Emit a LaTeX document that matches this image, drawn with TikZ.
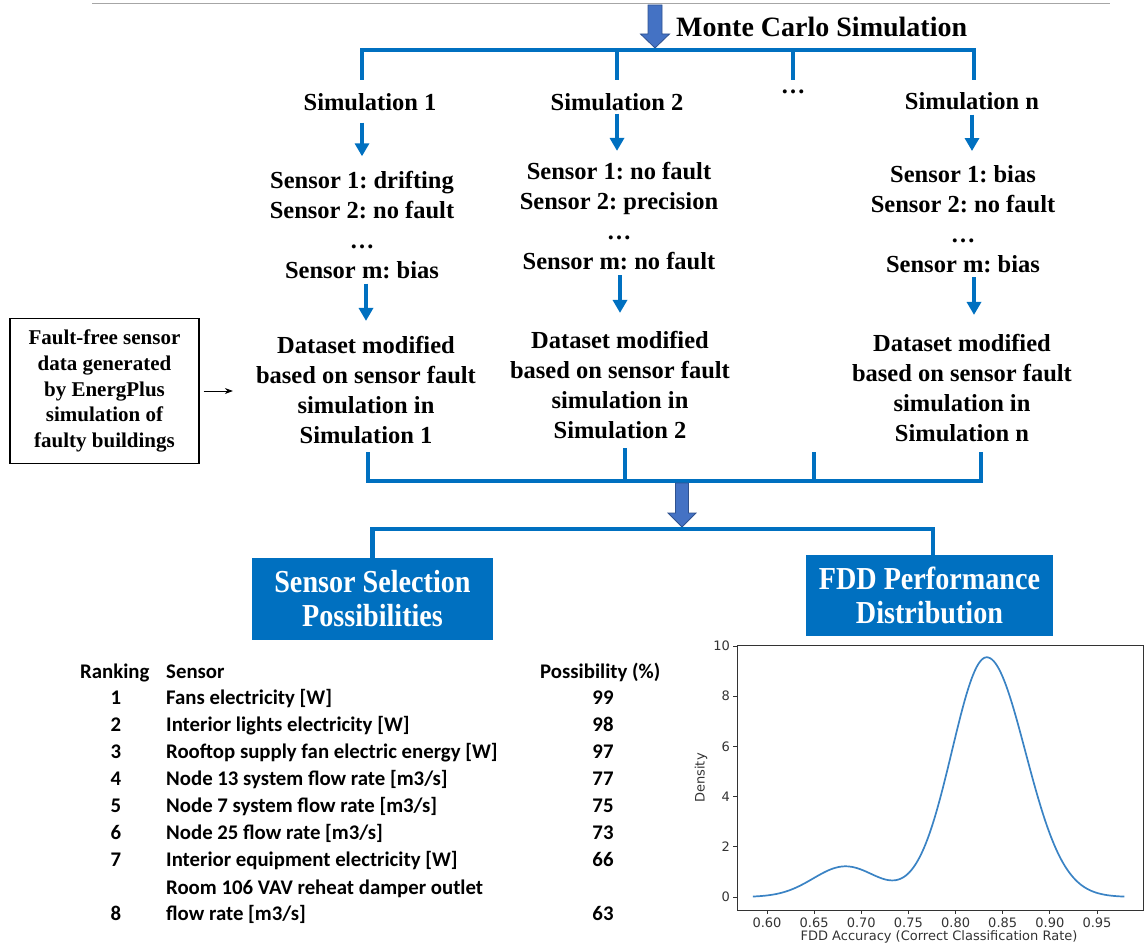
\documentclass[tikz,border=0pt]{standalone}
\usepackage{fontspec}
\setmainfont{Liberation Serif}
\newfontfamily\narrowserif[FakeStretch=0.88]{Liberation Serif}
\newfontfamily\tabfont{Carlito}
\newfontfamily\plotfont{DejaVu Sans}
\usetikzlibrary{arrows.meta,calc}
\definecolor{lineblue}{HTML}{0070C0}
\definecolor{arrowblue}{HTML}{4472C4}
\definecolor{arrowedge}{HTML}{2F528F}
\definecolor{boxblue}{HTML}{0070C0}
\definecolor{kdeblue}{HTML}{3A83C4}
\definecolor{axisgray}{HTML}{333333}
\frenchspacing

\begin{document}
\begin{tikzpicture}[x=1pt,y=-1pt,
  bus/.style={draw=lineblue, line width=4.5pt},
  flowarrow/.style={draw=lineblue, line width=3.6pt, -{Triangle[length=13pt,width=14pt]}},
  bigarrow/.style={fill=arrowblue, draw=arrowedge, line width=0.8pt},
  flowtext/.style={font=\bfseries\fontsize{24.5}{30}\selectfont, align=center, inner sep=0pt},
  titletext/.style={font=\bfseries\fontsize{28}{32}\selectfont, inner sep=0pt},
  sourcebox/.style={draw=black, line width=1.3pt, minimum width=189pt, minimum height=145pt,
    align=center, inner sep=0pt, font=\bfseries\fontsize{21}{25.7}\selectfont},
  resultbox/.style={fill=boxblue, text=white, align=center, inner sep=0pt,
    font=\narrowserif\bfseries\fontsize{32}{34}\selectfont},
  tabtext/.style={font=\tabfont\bfseries\fontsize{20.8}{25}\selectfont, inner sep=0pt},
  ticktext/.style={font=\plotfont\fontsize{13}{15}\selectfont, text=axisgray, inner sep=0pt},
]
\useasboundingbox (0,0) rectangle (1145,944);

% rule along the top
\draw[gray!70, line width=1.2pt] (92,3.5) -- (1110,3.5);

% ---------- Monte Carlo stage ----------
\node[titletext, anchor=west] (mc) at (676,27) {Monte Carlo Simulation};
\coordinate (mcTop) at (655,5);
\coordinate (mcTip) at (655,48);
\filldraw[bigarrow] ($(mcTop)+(-7,0)$) -- ($(mcTip)+(-7,-14)$) -- ($(mcTip)+(-14.5,-14)$)
  -- (mcTip) -- ($(mcTip)+(14.5,-14)$) -- ($(mcTip)+(7,-14)$) -- ($(mcTop)+(7,0)$) -- cycle;

\coordinate (busR) at (974,50);
\coordinate (drop1) at (362,80);
\coordinate (drop2) at (617,80);
\coordinate (drop3) at (793,80);
\coordinate (dropn) at (974,80);
\draw[bus] (drop1) |- (busR) -- (dropn);
\draw[bus] (drop2) -- (drop2 |- busR);
\draw[bus] (drop3) -- (drop3 |- busR);

\node[flowtext] (sim1) at (370,102) {Simulation 1};
\node[flowtext] (sim2) at (617,102) {Simulation 2};
\node[flowtext] (simdots) at (793,92) {…};
\node[flowtext] (simn) at (972,101) {Simulation n};

\node[flowtext] (sens1) at (362,224.6) {Sensor 1: drifting\\Sensor 2: no fault\\…\\Sensor m: bias};
\node[flowtext] (sens2) at (619,216.2) {Sensor 1: no fault\\Sensor 2: precision\\…\\Sensor m: no fault};
\node[flowtext] (sensn) at (963,219.2) {Sensor 1: bias\\Sensor 2: no fault\\…\\Sensor m: bias};

\node[flowtext] (data1) at (366,390.2) {Dataset modified\\based on sensor fault\\simulation in\\Simulation 1};
\node[flowtext] (data2) at (620,385.2) {Dataset modified\\based on sensor fault\\simulation in\\Simulation 2};
\node[flowtext] (datan) at (962,388.2) {Dataset modified\\based on sensor fault\\simulation in\\Simulation n};

\draw[flowarrow, shorten <=11.7pt, shorten >=14.3pt] (sens1.north |- sim1.south) -- (sens1.north);
\draw[flowarrow, shorten <=2.7pt, shorten >=11.3pt] (sim2.south) -- (sim2.south |- sens2.north);
\draw[flowarrow, shorten <=4.7pt, shorten >=14.3pt] (simn.south) -- (simn.south |- sensn.north);

\draw[flowarrow, shorten <=5pt, shorten >=15.3pt] (data1.north |- sens1.south) -- (data1.north);
\draw[flowarrow, shorten <=5pt, shorten >=18.3pt] (data2.north |- sens2.south) -- (data2.north);
\draw[flowarrow, shorten <=4pt, shorten >=19.3pt] (dropn |- sensn.south) -- (dropn |- datan.north);

% external input
\node[sourcebox] (ffbox) at (104.5,391) {Fault-free sensor\\data generated\\by EnergPlus\\simulation of\\faulty buildings};
\draw[-{Stealth[length=8pt,width=6pt]}, line width=0.8pt, shorten <=4pt, shorten >=23pt]
  (ffbox.east) -- (data1.west |- ffbox.east);

% ---------- merge and split ----------
\coordinate (rise1) at (368,452);
\coordinate (rise2) at (625,448);
\coordinate (rise3) at (814,452);
\coordinate (risen) at (981,452);
\coordinate (mergeR) at (981,481);
\draw[bus] (rise1) |- (mergeR) -- (risen);
\draw[bus] (rise2) -- (rise2 |- mergeR);
\draw[bus] (rise3) -- (rise3 |- mergeR);

\coordinate (mgTop) at (682,483);
\coordinate (mgTip) at (682,527);
\filldraw[bigarrow] ($(mgTop)+(-6.5,0)$) -- ($(mgTip)+(-6.5,-14)$) -- ($(mgTip)+(-14,-14)$)
  -- (mgTip) -- ($(mgTip)+(14,-14)$) -- ($(mgTip)+(6.5,-14)$) -- ($(mgTop)+(6.5,0)$) -- cycle;

\node[resultbox, minimum width=241pt, minimum height=82pt] (sel) at (372.5,599) {Sensor Selection\\Possibilities};
\node[resultbox, minimum width=247pt, minimum height=81pt] (fdd) at (929.5,595.5) {FDD Performance\\Distribution};
\coordinate (splitR) at (933,529);
\draw[bus] (sel.north) |- (splitR) -- (splitR |- fdd.north);

% ---------- ranking table ----------
\node[tabtext, anchor=base west] (hRank) at (80,678) {Ranking};
\node[tabtext, anchor=base west] (hSensor) at (166,678) {Sensor};
\node[tabtext, anchor=base west] (hPoss) at (540,678) {Possibility (\%)};
\foreach \n/\s/\p/\yy in {
  1/{Fans electricity [W]}/99/697,
  2/{Interior lights electricity [W]}/98/724,
  3/{Rooftop supply fan electric energy [W]}/97/751,
  4/{Node 13 system flow rate [m3/s]}/77/778,
  5/{Node 7 system flow rate [m3/s]}/75/805,
  6/{Node 25 flow rate [m3/s]}/73/832,
  7/{Interior equipment electricity [W]}/66/859,
  8/{flow rate [m3/s]}/63/913}{
  \node[tabtext, anchor=base] (rk\n) at (116,\yy+7) {\n};
  \node[tabtext, anchor=base west] (sn\n) at (166,\yy+7) {\s};
  \node[tabtext, anchor=base] (pv\n) at (603,\yy+7) {\p};
}
\node[tabtext, anchor=base west] (sn8a) at (166,894) {Room 106 VAV reheat damper outlet};

% ---------- density plot ----------
\node[draw=axisgray, line width=0.9pt, minimum width=406pt, minimum height=265pt, inner sep=0pt]
  (axes) at (940,777.5) {};
\foreach \v [count=\i from 0] in {0.60,0.65,0.70,0.75,0.80,0.85,0.90,0.95}{
  \draw[axisgray, line width=0.8pt] (767+\i*47.14,910) -- (767+\i*47.14,914);
  \node[ticktext, anchor=north] (xt\i) at (767+\i*47.14,917.5) {\v};
}
\foreach \v in {0,2,4,6,8,10}{
  \draw[axisgray, line width=0.8pt] (733,897-\v*25.1) -- (737,897-\v*25.1);
  \node[ticktext, anchor=east] (yt\v) at (730,897-\v*25.1) {\v};
}
\node[ticktext, rotate=90] (ylab) at (701,778) {Density};
\node[ticktext, anchor=base] (xlab) at (939,940) {FDD Accuracy (Correct Classification Rate)};

\draw[kdeblue, line width=1.7pt, domain=585:979, samples=220, smooth]
  plot ({767+(\x-600)*0.9429},
        {897-25.1*(1.22*exp(-0.5*((\x-683)/34)^2)
                 + 9.55*exp(-0.5*((\x-833)/((\x<833)?37:41))^2))});
\end{tikzpicture}
\end{document}
